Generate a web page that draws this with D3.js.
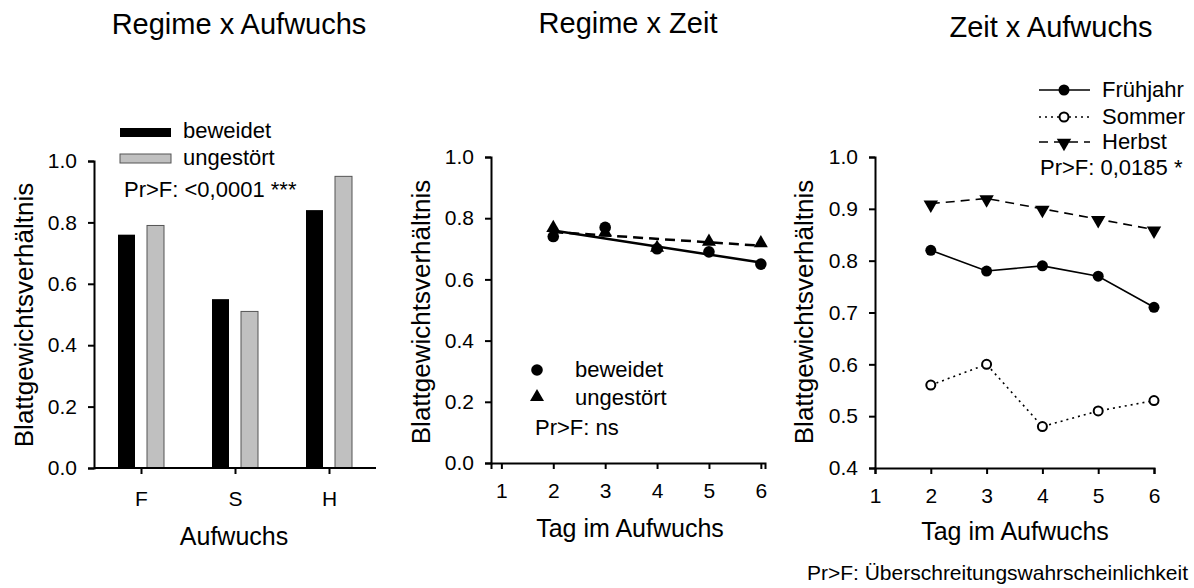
<!DOCTYPE html>
<html>
<head>
<meta charset="utf-8">
<script src="https://cdn.jsdelivr.net/npm/d3@7"></script>
<style>
  body { margin: 0; background: #fff; }
  svg { font-family: "Liberation Sans", Arial, sans-serif; }
  .axis path, .axis line { stroke: #000; stroke-width: 2; }
  .axis text { font-size: 21px; fill: #000; font-family: "Liberation Sans", Arial, sans-serif; }
</style>
</head>
<body>
<svg id="chart" width="1194" height="588"></svg>
<script>
// panel 1: Regime x Aufwuchs
const aufwuchs = ['F', 'S', 'H'];
const regimes = ['beweidet', 'ungestört'];
const beweidetBars = [0.76, 0.55, 0.84];
const ungestoertBars = [0.79, 0.51, 0.95];

// panel 2: Regime x Zeit
const tage = [2, 3, 4, 5, 6];
const beweidetTage = [0.74, 0.77, 0.70, 0.69, 0.65];
const ungestoertTage = [0.765, 0.75, 0.70, 0.72, 0.715];
const trendTage = [2, 6];
const trendBeweidet = [0.76, 0.655];
const trendUngestoert = [0.755, 0.71];

// panel 3: Zeit x Aufwuchs
const fruehjahr = [0.82, 0.78, 0.79, 0.77, 0.71];
const sommer = [0.56, 0.60, 0.48, 0.51, 0.53];
const herbst = [0.91, 0.92, 0.90, 0.88, 0.86];

const xTicks = [1, 2, 3, 4, 5, 6];
const yTicks1 = [0, 0.2, 0.4, 0.6, 0.8, 1.0];
const yTicks3 = [0.4, 0.5, 0.6, 0.7, 0.8, 0.9, 1.0];

const svg = d3.select('#chart');
const fmt = d3.format('.1f');

function label(x, y, txt, size, anchor, rotate) {
    return svg.append('text')
        .attr('transform', 'translate(' + x + ',' + y + ')' + (rotate ? ' rotate(-90)' : ''))
        .attr('text-anchor', anchor || 'start')
        .style('font-size', size + 'px')
        .text(txt);
}

function yAxis(scale, x, ticks) {
    svg.append('g')
        .attr('class', 'axis')
        .attr('transform', 'translate(' + x + ',0)')
        .call(d3.axisLeft(scale).tickValues(ticks).tickFormat(fmt).tickSizeOuter(0).tickSize(6).tickPadding(11));
}

function xAxis(scale, y, ticks, fmtFn, pad) {
    return svg.append('g')
        .attr('class', 'axis')
        .attr('transform', 'translate(0,' + y + ')')
        .call(d3.axisBottom(scale).tickValues(ticks).tickFormat(fmtFn).tickSizeOuter(0).tickSize(6).tickPadding(pad));
}

// ---------- panel 1 ----------
const x1 = d3.scaleBand().domain(aufwuchs).range([94, 376]);
const xInner = d3.scaleBand().domain(regimes).range([-23, 23]).paddingInner(0.414);
const y1 = d3.scaleLinear().domain([0, 1]).range([468, 161]);

const barData = aufwuchs.map((a, i) => [
    { cat: a, reg: 'beweidet', v: beweidetBars[i] },
    { cat: a, reg: 'ungestört', v: ungestoertBars[i] }
]).flat();

svg.selectAll('.bar')
    .data(barData)
    .enter()
    .append('rect')
    .attr('class', 'bar')
    .attr('x', d => x1(d.cat) + x1.bandwidth() / 2 + xInner(d.reg))
    .attr('y', d => y1(d.v))
    .attr('width', xInner.bandwidth())
    .attr('height', d => y1(0) - y1(d.v))
    .attr('fill', d => d.reg === 'beweidet' ? '#000' : '#c0c0c0')
    .attr('stroke', d => d.reg === 'beweidet' ? 'none' : '#555')
    .attr('stroke-width', 1);

yAxis(y1, 94, yTicks1);
xAxis(d3.scaleLinear().domain([94, 376]).range([94, 376]), 468, aufwuchs.map(a => x1(a) + x1.bandwidth() / 2),
    (d, i) => aufwuchs[i], 17).select('path').attr('d', 'M94,0H376');

label(239, 34, 'Regime x Aufwuchs', 29, 'middle');
label(234, 545, 'Aufwuchs', 25, 'middle');
label(33, 315, 'Blattgewichtsverhältnis', 26, 'middle', true);

// legend panel 1
regimes.forEach((r, i) => {
    svg.append('rect')
        .attr('x', 120).attr('y', 128 + i * 26)
        .attr('width', 51).attr('height', 9)
        .attr('fill', i === 0 ? '#000' : '#c0c0c0')
        .attr('stroke', i === 0 ? 'none' : '#555');
    label(183, 138 + i * 27, r, 22);
});
label(124, 197, 'Pr>F: <0,0001 ***', 22);

// ---------- panel 2 ----------
const x2 = d3.scaleLinear().domain([0.8, 6.08]).range([491, 765]);
const y2 = d3.scaleLinear().domain([0, 1]).range([463, 157]);

yAxis(y2, 491, yTicks1);
xAxis(x2, 463, xTicks, d3.format('d'), 14);

const line2 = d3.line().x(d => x2(d[0])).y(d => y2(d[1]));
svg.append('path')
    .datum(trendTage.map((t, i) => [t, trendUngestoert[i]]))
    .attr('d', line2)
    .attr('fill', 'none').attr('stroke', '#000').attr('stroke-width', 2.5)
    .attr('stroke-dasharray', '10,6');
svg.append('path')
    .datum(trendTage.map((t, i) => [t, trendBeweidet[i]]))
    .attr('d', line2)
    .attr('fill', 'none').attr('stroke', '#000').attr('stroke-width', 2.5);

const tri = d3.symbol().type(d3.symbolTriangle).size(85);
svg.selectAll('.tri2')
    .data(tage.map((t, i) => [t, ungestoertTage[i]]))
    .enter()
    .append('path')
    .attr('class', 'tri2')
    .attr('d', tri)
    .attr('transform', d => 'translate(' + x2(d[0]) + ',' + (y2(d[1]) - 1) + ')');
svg.selectAll('.dot2')
    .data(tage.map((t, i) => [t, beweidetTage[i]]))
    .enter()
    .append('circle')
    .attr('class', 'dot2')
    .attr('cx', d => x2(d[0]))
    .attr('cy', d => y2(d[1]))
    .attr('r', 5.8);

label(628, 33, 'Regime x Zeit', 29, 'middle');
label(630, 537, 'Tag im Aufwuchs', 25, 'middle');
label(430, 312, 'Blattgewichtsverhältnis', 26, 'middle', true);

svg.append('circle').attr('cx', 537).attr('cy', 370).attr('r', 5.8);
label(575, 377, 'beweidet', 22);
svg.append('path').attr('d', tri).attr('transform', 'translate(537,397)');
label(575, 405, 'ungestört', 22);
label(535, 435, 'Pr>F: ns', 22);

// ---------- panel 3 ----------
const x3 = d3.scaleLinear().domain([1, 6]).range([875, 1154]);
const y3 = d3.scaleLinear().domain([0.4, 1]).range([468, 157]);

yAxis(y3, 875, yTicks3);
xAxis(x3, 468, xTicks, d3.format('d'), 14);

const line3 = d3.line().x((d, i) => x3(tage[i])).y(d => y3(d));
const seasons = [
    { name: 'Frühjahr', vals: fruehjahr, dash: null, marker: 'fill' },
    { name: 'Sommer', vals: sommer, dash: '2,4', marker: 'open' },
    { name: 'Herbst', vals: herbst, dash: '9,6', marker: 'tri' }
];
const triDown = d3.symbol().type(d3.symbolTriangle).size(90);

function marker(g, kind, x, y) {
    if (kind === 'tri') {
        g.append('path').attr('d', triDown)
            .attr('transform', 'translate(' + x + ',' + (y + 1) + ') rotate(180)');
    } else if (kind === 'open') {
        g.append('circle').attr('cx', x).attr('cy', y).attr('r', 4.5)
            .attr('fill', '#fff').attr('stroke', '#000').attr('stroke-width', 2);
    } else {
        g.append('circle').attr('cx', x).attr('cy', y).attr('r', 5.5);
    }
}

seasons.forEach(s => {
    svg.append('path')
        .datum(s.vals)
        .attr('d', line3)
        .attr('fill', 'none').attr('stroke', '#000').attr('stroke-width', 1.6)
        .attr('stroke-dasharray', s.dash);
    const g = svg.append('g');
    s.vals.forEach((v, i) => marker(g, s.marker, x3(tage[i]), y3(v)));
});

label(1051, 37, 'Zeit x Aufwuchs', 29, 'middle');
label(1015, 540, 'Tag im Aufwuchs', 25, 'middle');
label(813, 312, 'Blattgewichtsverhältnis', 26, 'middle', true);

seasons.forEach((s, i) => {
    const yy = [90, 117, 142][i];
    svg.append('line')
        .attr('x1', 1039).attr('x2', 1090).attr('y1', yy).attr('y2', yy)
        .attr('stroke', '#000').attr('stroke-width', 1.6)
        .attr('stroke-dasharray', s.dash);
    marker(svg, s.marker, 1064, yy);
    label(1102, yy + 7, s.name, 22);
});
label(1040, 175, 'Pr>F: 0,0185 *', 22);

label(1188, 580, 'Pr>F: Überschreitungswahrscheinlichkeit', 21, 'end');
</script>
</body>
</html>
